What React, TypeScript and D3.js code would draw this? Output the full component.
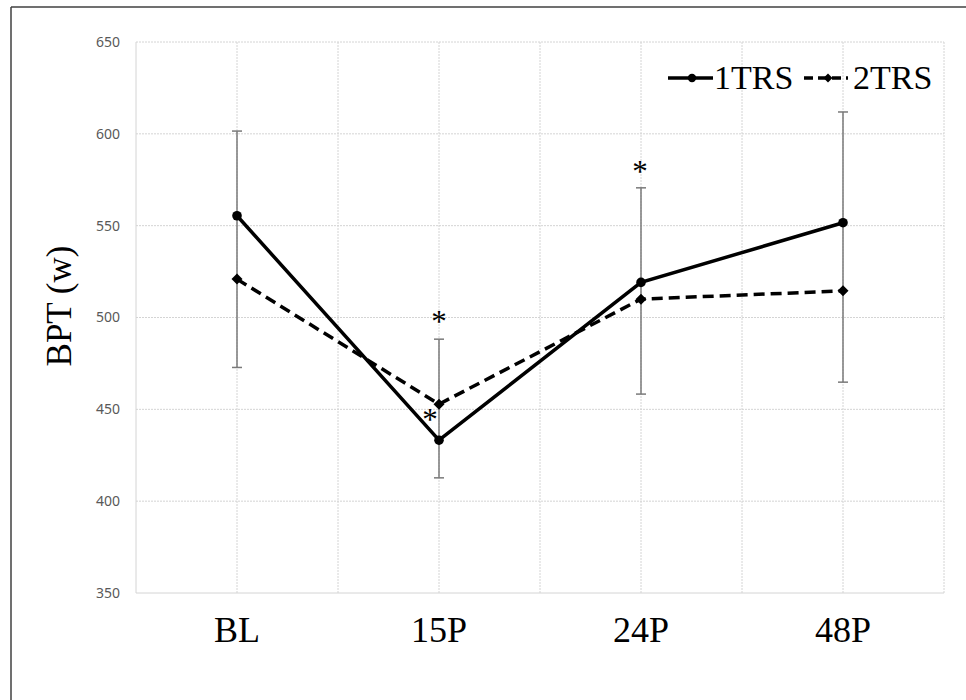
import React from "react";
import * as d3 from "d3";

const categories = ["BL", "15P", "24P", "48P"];
const series1 = [555.4, 433.2, 519.1, 551.6]; // 1TRS
const series2 = [520.9, 452.8, 510.0, 514.5]; // 2TRS
const errTop = [601.5, 488.2, 570.6, 611.9];
const errBottom = [472.8, 412.7, 458.3, 464.8];
const yTicks = [350, 400, 450, 500, 550, 600, 650];
// asterisks: [category index, value position, x offset]
const asterisks = [
  { cat: 1, value: 498, dx: 0 },
  { cat: 1, value: 445, dx: -9 },
  { cat: 2, value: 580, dx: -1 },
];

const W = 966;
const H = 700;
const left = 136;
const right = 944;
const top = 42;
const bottom = 593;

export default function App() {
  const x = d3.scaleBand<string>().domain(categories).range([left, right]);
  const cx = (c: string) => (x(c) as number) + x.bandwidth() / 2;
  const y = d3.scaleLinear().domain([350, 650]).range([bottom, top]);

  const vLines: number[] = [];
  for (let i = 0; i <= categories.length * 2; i++) {
    vLines.push(left + (i * x.bandwidth()) / 2);
  }

  const line = d3
    .line<number>()
    .x((_, i) => cx(categories[i]))
    .y((d) => y(d));

  const serif = "'Liberation Serif', 'Times New Roman', serif";
  const diamond = (px: number, py: number, r: number) =>
    `M${px},${py - r}L${px + r},${py}L${px},${py + r}L${px - r},${py}Z`;

  return (
    <svg
      width={W}
      height={H}
      style={{ position: "absolute", left: 0, top: 0, background: "#fff" }}
    >
      <rect x={0} y={0} width={W} height={H} fill="#fff" />
      {/* outer frame */}
      <line x1={11} y1={7} x2={W} y2={7} stroke="#404040" strokeWidth={1.5} />
      <line x1={11} y1={7} x2={11} y2={H} stroke="#404040" strokeWidth={1.5} />

      {/* gridlines */}
      {yTicks.map((t) => (
        <line
          key={"h" + t}
          x1={left}
          x2={right}
          y1={y(t)}
          y2={y(t)}
          stroke="#d4d4d4"
          strokeWidth={1}
          strokeDasharray={t === 350 ? undefined : "2,1"}
        />
      ))}
      {vLines.map((v, i) => (
        <line
          key={"v" + i}
          x1={v}
          x2={v}
          y1={top}
          y2={bottom}
          stroke="#d4d4d4"
          strokeWidth={1}
          strokeDasharray={i === 0 ? undefined : "2,1"}
        />
      ))}

      {/* y tick labels */}
      {yTicks.map((t) => (
        <text
          key={"t" + t}
          x={120}
          y={y(t)}
          dy="0.35em"
          textAnchor="end"
          fontFamily="'Noto Sans', sans-serif"
          fontSize={14}
          fill="#595959"
        >
          {t}
        </text>
      ))}

      {/* y title */}
      <text
        transform={`translate(71,306) rotate(-90)`}
        textAnchor="middle"
        fontFamily={serif}
        fontSize={35}
        fill="#000"
      >
        BPT (w)
      </text>

      {/* x labels */}
      {categories.map((c) => (
        <text
          key={"x" + c}
          x={cx(c)}
          y={642}
          textAnchor="middle"
          fontFamily={serif}
          fontSize={36}
          fill="#000"
        >
          {c}
        </text>
      ))}

      {/* error bars */}
      {categories.map((c, i) => (
        <g key={"e" + c} stroke="#7a7a7a" strokeWidth={1.5}>
          <line x1={cx(c)} x2={cx(c)} y1={y(errTop[i])} y2={y(errBottom[i])} />
          <line x1={cx(c) - 5} x2={cx(c) + 5} y1={y(errTop[i])} y2={y(errTop[i])} />
          <line
            x1={cx(c) - 5}
            x2={cx(c) + 5}
            y1={y(errBottom[i])}
            y2={y(errBottom[i])}
          />
        </g>
      ))}

      {/* series lines */}
      <path d={line(series2) || ""} fill="none" stroke="#000" strokeWidth={3.5} strokeDasharray="11,6" />
      <path d={line(series1) || ""} fill="none" stroke="#000" strokeWidth={3.5} />

      {/* markers */}
      {series1.map((v, i) => (
        <circle key={"m1" + i} cx={cx(categories[i])} cy={y(v)} r={4.8} fill="#000" />
      ))}
      {series2.map((v, i) => (
        <path key={"m2" + i} d={diamond(cx(categories[i]), y(v), 5.5)} fill="#000" />
      ))}

      {/* asterisks */}
      {asterisks.map((a, i) => (
        <text
          key={"a" + i}
          x={cx(categories[a.cat]) + a.dx}
          y={y(a.value)}
          dy="0.36em"
          textAnchor="middle"
          fontFamily={serif}
          fontSize={31}
          fill="#000"
        >
          *
        </text>
      ))}

      {/* legend */}
      <g>
        <line x1={668} x2={713} y1={78} y2={78} stroke="#000" strokeWidth={3.5} />
        <circle cx={692} cy={78} r={4.2} fill="#000" />
        <text x={714} y={89} fontFamily={serif} fontSize={34} fill="#000">
          1TRS
        </text>
        <line
          x1={804}
          x2={848}
          y1={78}
          y2={78}
          stroke="#000"
          strokeWidth={3.5}
          strokeDasharray="9,5"
        />
        <path d={diamond(828, 78, 4.5)} fill="#000" />
        <text x={853} y={89} fontFamily={serif} fontSize={34} fill="#000">
          2TRS
        </text>
      </g>
    </svg>
  );
}
